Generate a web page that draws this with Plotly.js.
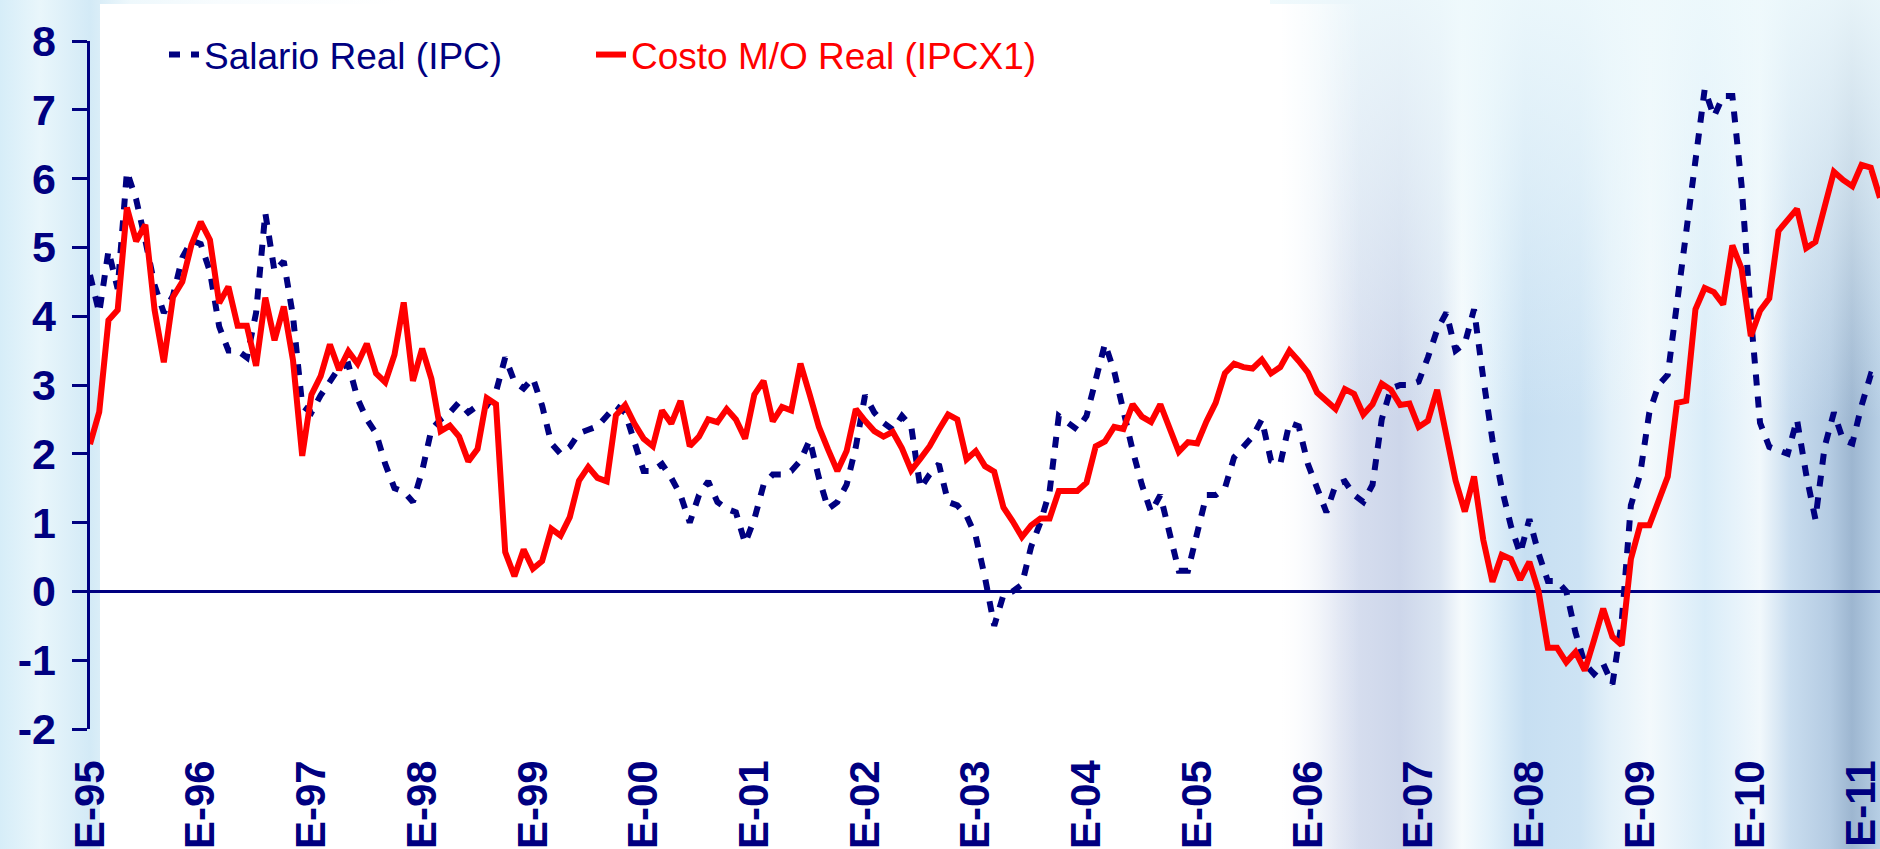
<!DOCTYPE html>
<html>
<head>
<meta charset="utf-8">
<script src="https://cdn.plot.ly/plotly-3.0.1.min.js"></script>
<style>
html,body{margin:0;padding:0;width:1880px;height:849px;overflow:hidden;background:#ffffff;}
.layer{position:absolute;left:0;top:0;width:1880px;height:849px;}
#bgBase{background:linear-gradient(to right,
  #d6edf8 0px, #e9f6fb 40px, #d3eaf6 90px, #eef8fc 130px, #f8fcfe 220px, #ffffff 400px,
  #ffffff 1270px, #eef2f9 1300px, #d9e0f0 1340px, #cdd6ea 1400px, #dbe5f2 1440px,
  #f6fbfd 1462px, #e2f1fa 1490px, #c7dff2 1525px, #cde3f4 1580px, #e2f0f9 1610px,
  #f3f9fc 1650px, #d9ecf8 1705px, #f1f8fc 1760px, #c9ddef 1790px, #b4cbe2 1830px,
  #9db6d0 1852px, #b7cfe5 1880px);}
#bgTop{left:1270px;width:610px;background:linear-gradient(to bottom,
  rgba(238,249,252,0.9) 0px, rgba(238,249,252,0.55) 180px, rgba(255,255,255,0) 420px);}
#bgPanel{left:100px;top:4px;width:1260px;height:845px;background:linear-gradient(to right,
  #ffffff 0px, #ffffff 1180px, rgba(255,255,255,0) 1260px);}
#chart{position:absolute;left:0;top:0;width:1880px;height:849px;}
</style>
</head>
<body>
<div id="bgBase" class="layer"></div>
<div id="bgTop" class="layer"></div>
<div id="bgPanel" class="layer"></div>
<div id="chart"></div>
<script>
// Year-on-year change (%), monthly, from Jan-1995
const salarioReal = [
  4.6, 4.05, 4.95, 4.4, 6.1, 5.7, 5.1, 4.45, 4.05, 4.3,
  4.85, 5.1, 5.05, 4.65, 3.85, 3.5, 3.5, 3.4, 4.05, 5.5,
  4.65, 4.8, 4.0, 2.7, 2.6, 2.85, 3.05, 3.25, 3.3, 2.8,
  2.5, 2.3, 1.85, 1.5, 1.45, 1.3, 1.75, 2.35, 2.5, 2.6,
  2.75, 2.6, 2.7, 2.7, 2.9, 3.4, 3.05, 2.95, 3.1, 2.7,
  2.15, 2.0, 2.1, 2.3, 2.35, 2.4, 2.55, 2.7, 2.6, 2.2,
  1.75, 1.75, 1.85, 1.65, 1.4, 1.0, 1.4, 1.6, 1.3, 1.2,
  1.15, 0.7, 1.05, 1.55, 1.7, 1.7, 1.75, 1.9, 2.2, 1.65,
  1.2, 1.3, 1.55, 2.1, 2.85, 2.6, 2.45, 2.35, 2.55, 2.4,
  1.5, 1.7, 1.85, 1.3, 1.25, 1.1, 0.8, 0.2, -0.5, -0.05,
  0.0, 0.1, 0.65, 1.0, 1.45, 2.55, 2.45, 2.35, 2.55, 3.1,
  3.6, 3.2, 2.6, 2.05, 1.55, 1.15, 1.4, 0.85, 0.3, 0.3,
  0.85, 1.4, 1.4, 1.5, 1.95, 2.1, 2.25, 2.5, 1.9, 1.85,
  2.45, 2.4, 1.85, 1.5, 1.15, 1.55, 1.6, 1.4, 1.3, 1.55,
  2.5, 2.95, 3.0, 3.0, 3.05, 3.4, 3.8, 4.05, 3.5, 3.6,
  4.1, 3.1, 2.2, 1.5, 0.95, 0.55, 1.05, 0.55, 0.15, 0.15,
  0.0, -0.6, -1.05, -1.2, -1.05, -1.35, -0.45, 1.25, 1.7, 2.6,
  3.0, 3.15, 4.15, 5.2, 6.2, 7.3, 6.9, 7.2, 7.2, 5.9,
  4.0, 2.45, 2.1, 2.05, 2.0, 2.5, 1.7, 1.05, 2.1, 2.6,
  2.2, 2.15, 2.7, 3.15, 3.1
];
const costoMOReal = [
  2.14, 2.61, 3.94, 4.09, 5.58, 5.09, 5.33, 4.09, 3.33, 4.28,
  4.5, 5.04, 5.37, 5.11, 4.19, 4.43, 3.86, 3.86, 3.28, 4.27,
  3.65, 4.14, 3.36, 1.97, 2.86, 3.13, 3.59, 3.22, 3.49, 3.31,
  3.6, 3.17, 3.04, 3.44, 4.2, 3.06, 3.53, 3.09, 2.33, 2.41,
  2.25, 1.89, 2.07, 2.81, 2.72, 0.57, 0.22, 0.61, 0.33, 0.44,
  0.91, 0.81, 1.08, 1.61, 1.81, 1.65, 1.6, 2.56, 2.71, 2.44,
  2.22, 2.11, 2.63, 2.44, 2.77, 2.11, 2.25, 2.5, 2.46, 2.65,
  2.5, 2.22, 2.86, 3.06, 2.47, 2.68, 2.63, 3.31, 2.86, 2.39,
  2.06, 1.75, 2.04, 2.65, 2.48, 2.33, 2.25, 2.32, 2.08, 1.76,
  1.93, 2.11, 2.35, 2.57, 2.5, 1.92, 2.04, 1.82, 1.74, 1.22,
  1.02, 0.79, 0.96, 1.06, 1.06, 1.46, 1.46, 1.46, 1.58, 2.11,
  2.18, 2.39, 2.36, 2.72, 2.54, 2.46, 2.72, 2.37, 2.03, 2.17,
  2.15, 2.47, 2.74, 3.17, 3.31, 3.26, 3.24, 3.37, 3.17, 3.26,
  3.5, 3.35, 3.18, 2.89, 2.78, 2.65, 2.94, 2.87, 2.57, 2.72,
  3.02, 2.93, 2.71, 2.73, 2.39, 2.48, 2.93, 2.31, 1.61, 1.16,
  1.67, 0.75, 0.14, 0.53, 0.47, 0.17, 0.43, 0.0, -0.82, -0.82,
  -1.03, -0.88, -1.15, -0.71, -0.25, -0.66, -0.78, 0.47, 0.96, 0.96,
  1.33, 1.67, 2.74, 2.77, 4.1, 4.41, 4.35, 4.17, 5.03, 4.69,
  3.71, 4.08, 4.26, 5.24, 5.4, 5.56, 4.99, 5.08, 5.59, 6.1,
  5.98, 5.89, 6.2, 6.16, 5.72
];
const xTickLabels = ['E-95','E-96','E-97','E-98','E-99','E-00','E-01','E-02',
  'E-03','E-04','E-05','E-06','E-07','E-08','E-09','E-10','E-11'];
const yTickValues = [-2,-1,0,1,2,3,4,5,6,7,8];
const yTickLabels = ['-2','-1','0','1','2','3','4','5','6','7','8'];
const seriesNames = ['Salario Real (IPC)', 'Costo M/O Real (IPCX1)'];

// monthly category names, Jan-1995 onward
const months = [];
for (let i = 0; i < costoMOReal.length; i++) {
  const yr = 1995 + Math.floor(i / 12);
  const mo = (i % 12) + 1;
  months.push(yr + '-' + String(mo).padStart(2, '0'));
}
const januaryMonths = months.filter((m, i) => i % 12 === 0);

const NAVY = '#000080';
const RED = '#FF0000';
const FONT = 'Arial, "Liberation Sans", Helvetica, sans-serif';

const traces = [
  {
    type: 'scatter', mode: 'lines', name: seriesNames[0],
    x: months, y: salarioReal,
    line: {color: NAVY, width: 6, dash: '11px,11px'},
    legend: 'legend', hoverinfo: 'skip'
  },
  {
    type: 'scatter', mode: 'lines', name: seriesNames[1],
    x: months, y: costoMOReal,
    line: {color: RED, width: 6},
    legend: 'legend2', hoverinfo: 'skip'
  }
];

const layout = {
  width: 1880, height: 849,
  margin: {l: 90, r: 0, t: 41, b: 120, pad: 0, autoexpand: false},
  paper_bgcolor: 'rgba(0,0,0,0)',
  plot_bgcolor: 'rgba(0,0,0,0)',
  font: {family: FONT, color: NAVY},
  showlegend: true,
  xaxis: {
    type: 'category',
    range: [0, months.length - 1],
    tickmode: 'array', tickvals: januaryMonths, ticktext: xTickLabels,
    tickangle: -90, ticks: '', showgrid: false, zeroline: false, showline: false,
    tickfont: {family: FONT, size: 42, color: NAVY, weight: 'bold'},
    ticklabelstandoff: 22,
    automargin: false,
    fixedrange: true
  },
  yaxis: {
    range: [-2, 8],
    tickmode: 'array', tickvals: yTickValues, ticktext: yTickLabels,
    ticks: 'outside', ticklen: 15, tickwidth: 3, tickcolor: NAVY,
    showline: true, linecolor: NAVY, linewidth: 3.5,
    showgrid: false,
    zeroline: true, zerolinecolor: NAVY, zerolinewidth: 3,
    tickfont: {family: FONT, size: 43, color: NAVY, weight: 'bold'},
    ticklabelstandoff: 7,
    automargin: false,
    fixedrange: true
  },
  legend: {
    orientation: 'h', xref: 'paper', yref: 'paper',
    x: (164 - 90) / 1790, y: (729 - 55) / 688, xanchor: 'left', yanchor: 'middle',
    bgcolor: 'rgba(0,0,0,0)', borderwidth: 0,
    font: {family: FONT, size: 37, color: NAVY}
  },
  legend2: {
    orientation: 'h', xref: 'paper', yref: 'paper',
    x: (591 - 90) / 1790, y: (729 - 55) / 688, xanchor: 'left', yanchor: 'middle',
    bgcolor: 'rgba(0,0,0,0)', borderwidth: 0,
    font: {family: FONT, size: 37, color: RED}
  }
};

Plotly.newPlot('chart', traces, layout, {displayModeBar: false, staticPlot: true});
</script>
</body>
</html>
